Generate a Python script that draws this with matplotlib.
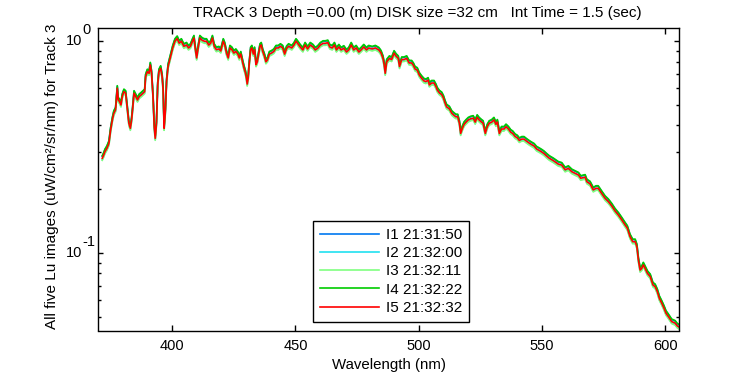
import matplotlib
matplotlib.use("Agg")
import matplotlib.pyplot as plt
import matplotlib.transforms as mtransforms
from matplotlib.ticker import LogLocator, NullFormatter, FixedLocator

# ---------------- data ----------------
wavelength = [
    371.6, 372.2, 372.7, 373.5, 374.3, 375.0, 375.7, 376.3, 377.0, 377.7,
    378.1, 378.6, 379.2, 379.7, 380.4, 381.1, 381.7, 382.4, 383.0, 383.5,
    383.9, 384.5, 385.2, 385.9, 386.6, 387.4, 388.1, 388.8, 389.2, 389.9,
    390.6, 391.1, 391.6, 392.2, 392.7, 393.1, 393.6, 394.1, 394.6, 395.3,
    395.9, 396.3, 396.7, 397.2, 397.7, 398.3, 398.8, 399.5, 400.2, 401.1,
    402.0, 402.8, 403.7, 404.7, 405.8, 406.6, 407.4, 408.2, 408.8, 409.3,
    409.9, 410.5, 411.2, 412.2, 413.1, 413.9, 414.8, 415.6, 416.3, 417.0,
    417.9, 418.9, 419.7, 420.7, 421.3, 422.0, 422.7, 423.4, 424.2, 425.0,
    425.8, 426.6, 427.2, 427.8, 428.6, 429.1, 429.7, 430.1, 430.4, 430.8,
    431.2, 431.8, 432.3, 432.9, 433.4, 434.0, 434.5, 435.1, 435.6, 436.1,
    436.7, 437.4, 438.0, 438.6, 439.4, 440.3, 441.2, 442.1, 443.0, 443.9,
    444.8, 445.6, 446.4, 447.2, 448.5, 449.4, 450.2, 450.8, 451.9, 453.0,
    453.9, 454.9, 456.0, 457.1, 458.0, 459.0, 460.1, 461.2, 462.1, 463.1,
    463.9, 464.9, 465.8, 466.6, 467.6, 468.5, 469.6, 470.7, 471.6, 472.6,
    473.6, 474.6, 475.7, 476.6, 477.7, 478.8, 479.7, 481.1, 482.4, 483.8,
    484.7, 485.5, 486.0, 486.4, 487.0, 488.1, 489.0, 490.0, 490.8, 491.7,
    492.2, 493.1, 494.0, 495.1, 496.1, 497.1, 497.8, 498.5, 499.4, 500.2,
    501.1, 502.1, 502.9, 503.8, 504.3, 505.2, 506.2, 507.0, 507.5, 508.4,
    509.3, 510.0, 510.7, 511.3, 512.4, 513.4, 514.3, 515.1, 515.8, 516.5,
    517.0, 517.6, 518.4, 519.2, 520.1, 521.0, 522.1, 522.9, 523.7, 524.5,
    525.5, 526.1, 527.0, 527.8, 528.6, 529.6, 530.5, 531.3, 531.9, 532.7,
    533.6, 534.6, 535.4, 536.4, 537.3, 538.1, 539.1, 540.0, 540.8, 541.8,
    542.7, 543.8, 544.9, 545.8, 546.8, 547.8, 548.9, 549.9, 550.8, 551.9,
    553.0, 554.6, 556.6, 558.0, 559.4, 560.7, 562.1, 563.4, 564.8, 565.7,
    567.5, 568.2, 569.5, 570.8, 571.9, 572.8, 574.2, 575.6, 576.9, 578.3,
    579.6, 581.0, 582.4, 583.7, 584.6, 585.7, 586.8, 587.8, 588.5, 589.1,
    589.8, 590.5, 591.1, 591.8, 592.8, 593.9, 595.0, 595.9, 596.8, 597.6,
    598.6, 599.5, 600.3, 601.3, 602.6, 604.0, 604.9, 605.7,
]

lu_track3 = [
    0.280, 0.290, 0.301, 0.312, 0.329, 0.381, 0.425, 0.457, 0.474, 0.600,
    0.528, 0.519, 0.500, 0.548, 0.578, 0.568, 0.490, 0.410, 0.388, 0.425,
    0.474, 0.568, 0.548, 0.528, 0.548, 0.558, 0.568, 0.578, 0.680, 0.718,
    0.706, 0.773, 0.706, 0.548, 0.395, 0.348, 0.410, 0.622, 0.718, 0.745,
    0.680, 0.589, 0.388, 0.465, 0.645, 0.759, 0.800, 0.862, 0.930, 1.000,
    1.030, 0.980, 1.000, 0.947, 0.960, 0.930, 0.947, 1.000, 1.036, 0.930,
    0.834, 0.930, 1.036, 1.010, 1.000, 1.000, 0.960, 0.980, 1.036, 0.947,
    0.913, 0.920, 0.900, 1.000, 0.960, 0.880, 0.834, 0.930, 0.913, 0.880,
    0.895, 0.870, 0.834, 0.870, 0.790, 0.748, 0.708, 0.670, 0.628, 0.670,
    0.775, 0.913, 0.930, 0.870, 0.913, 0.775, 0.800, 0.880, 0.947, 0.960,
    0.895, 0.850, 0.800, 0.815, 0.870, 0.880, 0.895, 0.930, 0.930, 0.947,
    0.930, 0.870, 0.925, 0.947, 0.930, 0.960, 1.000, 0.980, 0.940, 0.910,
    0.960, 0.920, 0.960, 0.940, 0.910, 0.927, 0.960, 0.978, 0.978, 0.985,
    0.940, 0.930, 0.960, 0.910, 0.940, 0.910, 0.927, 0.890, 0.910, 0.960,
    0.910, 0.930, 0.890, 0.910, 0.940, 0.910, 0.930, 0.920, 0.930, 0.910,
    0.880, 0.830, 0.773, 0.706, 0.800, 0.830, 0.820, 0.878, 0.850, 0.830,
    0.760, 0.820, 0.820, 0.830, 0.790, 0.790, 0.770, 0.740, 0.730, 0.693,
    0.670, 0.650, 0.645, 0.655, 0.622, 0.635, 0.635, 0.610, 0.589, 0.570,
    0.560, 0.540, 0.510, 0.490, 0.480, 0.457, 0.447, 0.440, 0.440, 0.410,
    0.367, 0.385, 0.405, 0.415, 0.425, 0.430, 0.433, 0.415, 0.437, 0.425,
    0.415, 0.410, 0.367, 0.395, 0.410, 0.415, 0.425, 0.405, 0.415, 0.367,
    0.385, 0.385, 0.395, 0.385, 0.372, 0.367, 0.355, 0.350, 0.340, 0.345,
    0.345, 0.337, 0.330, 0.325, 0.320, 0.310, 0.305, 0.300, 0.295, 0.287,
    0.280, 0.273, 0.263, 0.260, 0.247, 0.251, 0.242, 0.238, 0.2335, 0.2254,
    0.228, 0.217, 0.212, 0.1985, 0.202, 0.202, 0.191, 0.181, 0.175, 0.1667,
    0.158, 0.151, 0.143, 0.1356, 0.131, 0.1194, 0.113, 0.113, 0.107, 0.0927,
    0.083, 0.0846, 0.0878, 0.0846, 0.080, 0.0773, 0.0706, 0.0693, 0.0656, 0.061,
    0.0578, 0.0548, 0.0519, 0.050, 0.0474, 0.0466, 0.0452, 0.0446,
]

# relative level of each of the five images versus the reference trace
image_level = [1.022, 0.985, 0.978, 1.028, 1.0]
image_labels = ["I1 21:31:50", "I2 21:32:00", "I3 21:32:11", "I4 21:32:22", "I5 21:32:32"]
image_colors = ["#0078F0", "#20E0F0", "#80FF80", "#00CC00", "#FF0000"]

x_ticks = [400, 450, 500, 550, 600]
y_ticks = [0.1, 1.0]
y_tick_exponents = ["-1", "0"]

# ---------------- figure ----------------
plt.rcParams["font.family"] = ["Liberation Sans", "DejaVu Sans"]
plt.rcParams["font.size"] = 10.5

W, H = 750, 375
fig = plt.figure(figsize=(7.5, 3.75), dpi=100)
ax = fig.add_axes([98.3 / W, 1 - 330.5 / H, (679.3 - 98.3) / W, (330.5 - 27.7) / H])

for lvl, lab, col in zip(image_level, image_labels, image_colors):
    ax.plot(wavelength, [v * lvl for v in lu_track3], color=col, lw=1.2, label=lab)

ax.set_yscale("log")
ax.set_xlim(370.0, 605.7)
ax.set_ylim(0.0430, 1.159)

ax.xaxis.set_major_locator(FixedLocator(x_ticks))
ax.yaxis.set_major_locator(FixedLocator(y_ticks))
ax.yaxis.set_major_formatter(NullFormatter())
ax.yaxis.set_minor_locator(LogLocator(base=10, subs=range(2, 10)))
ax.yaxis.set_minor_formatter(NullFormatter())

ax.tick_params(axis="both", which="both", direction="in", top=True, right=True,
               labelsize=10.5, width=1.0)
ax.tick_params(axis="x", which="major", length=4.5, pad=6)
ax.tick_params(axis="y", which="major", length=3.6, pad=7)
ax.tick_params(axis="y", which="minor", length=2.2)
for s in ax.spines.values():
    s.set_linewidth(1.0)

# MATLAB-style "10" with a full-size raised exponent
ytrans = ax.get_yaxis_transform()
for val, ex in zip(y_ticks, y_tick_exponents):
    base_tr = mtransforms.offset_copy(ytrans, fig=fig, x=-16.5, y=0, units="dots")
    ax.text(0, val, "10", transform=base_tr, ha="right", va="center",
            fontsize=10.5, clip_on=False)
    exp_tr = mtransforms.offset_copy(ytrans, fig=fig, x=-16.0, y=4.0, units="dots")
    ax.text(0, val, ex, transform=exp_tr, ha="left", va="bottom",
            fontsize=10.5, clip_on=False)

ax.set_xlabel("Wavelength (nm)", fontsize=10.8, labelpad=4)
ax.set_ylabel("All five Lu images (uW/cm\u00b2/sr/nm) for Track 3", fontsize=11)
ax.yaxis.set_label_coords((59.0 - 98.3) / 581.0, 0.51)

fig.text(192.7 / W, 1 - 12.8 / H,
         "TRACK 3 Depth =0.00 (m) DISK size =32 cm   Int Time = 1.5 (sec)",
         ha="left", va="center", fontsize=11)

leg = ax.legend(loc="upper left", bbox_to_anchor=((312.7 - 98.3) / 581.0, (330.5 - 220.7) / 302.8),
                borderaxespad=0, fancybox=False, framealpha=1, edgecolor="black",
                fontsize=11, handlelength=3.9, handletextpad=0.4, labelspacing=0.28,
                borderpad=0.47)
leg.get_frame().set_linewidth(1.0)

fig.savefig("out.png", dpi=100)
